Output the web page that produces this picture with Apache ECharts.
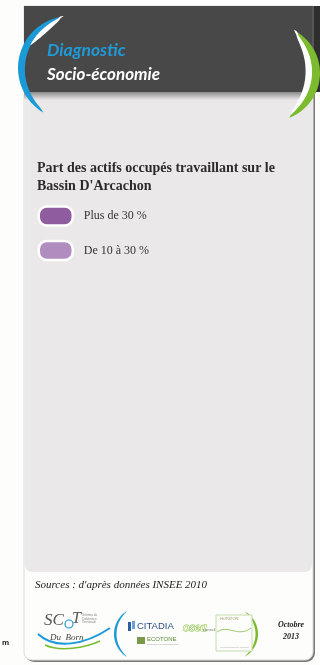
<!DOCTYPE html>
<html>
<head>
<meta charset="utf-8">
<script src="https://cdn.jsdelivr.net/npm/echarts@6/dist/echarts.min.js"></script>
<style>
html,body{margin:0;padding:0;background:#fdfdfb;}
#chart{width:320px;height:665px;}
</style>
</head>
<body>
<div id="chart"></div>
<script>
// ---- content ----
const headerLines = ['Diagnostic', 'Socio-économie'];
const chartTitleLines = ['Part des actifs occupés travaillant sur le', "Bassin D'Arcachon"];
const legendNames = ['Plus de 30 %', 'De 10 à 30 %'];
const legendColors = ['#8f5c9f', '#b08dbf'];
const sourceText = "Sources : d'après données INSEE 2010";
const dateLines = ['Octobre', '2013'];
const partnerNames = ['CITADIA', 'ECOTONE', 'osea', 'HORIZON'];
const sideMark = 'm';

// ---- helpers for decorative shapes ----
// tapered band along a circle: outer radius ro(u), inner radius ri(u), u in [0,1]
function band(c, a1, a2, ro, ri) {
  const n = 48, pts = [];
  for (let i = 0; i <= n; i++) {
    const u = i / n, a = (a1 + (a2 - a1) * u) * Math.PI / 180, r = ro(u);
    pts.push([c[0] + r * Math.cos(a), c[1] + r * Math.sin(a)]);
  }
  for (let i = n; i >= 0; i--) {
    const u = i / n, a = (a1 + (a2 - a1) * u) * Math.PI / 180, r = ri(u);
    pts.push([c[0] + r * Math.cos(a), c[1] + r * Math.sin(a)]);
  }
  return pts;
}
function taper(T, p) { return u => T * Math.pow(Math.max(0, Math.sin(Math.PI * Math.max(0, Math.min(1, u)))), p || 0.6); }
function crescent(c, r, a1, a2, T, p) {
  const t = taper(T, p);
  return band(c, a1, a2, () => r, u => r - t(u));
}

const chart = echarts.init(document.getElementById('chart'), null, {renderer: 'canvas'});

const iconPath = 'path://M8,0H26A8,8 0 0 1 34,8V11A8,8 0 0 1 26,19H8A8,8 0 0 1 0,11V8A8,8 0 0 1 8,0Z';

// blue (left) and green (right) header arcs
const blueT = taper(7, 0.55);
const greenT = taper(8, 0.55);
const whiteG = taper(7, 0.5);
const whiteB = taper(5, 0.7);

const graphics = [
  // page background
  {type: 'rect', z: -10, shape: {x: 0, y: 0, width: 320, height: 665}, style: {fill: '#fdfdfb'}},
  // panel (white with border/shadow)
  {type: 'rect', z: -9, shape: {x: 25, y: 6, width: 290, height: 656, r: [0, 0, 9, 9]}, style: {fill: '#7a7a7a'}},
  {type: 'rect', z: -8, shape: {x: 24, y: 6, width: 289, height: 654, r: [0, 0, 8, 8]}, style: {fill: '#fdfdfb', stroke: '#dcdcdc', lineWidth: 1}},
  // right dark strip next to header
  {type: 'rect', z: -7, shape: {x: 313, y: 6, width: 7, height: 86}, style: {fill: '#2e2e2e'}},
  {type: 'rect', z: -7, shape: {x: 311, y: 6, width: 3, height: 86}, style: {fill: '#565656'}},
  // grey body
  {type: 'rect', z: -6, shape: {x: 25, y: 90, width: 287, height: 482, r: [0, 0, 7, 7]}, style: {fill: '#ebe8e9'}},
  // header
  {type: 'rect', z: -5, shape: {x: 24, y: 6, width: 288, height: 86}, style: {fill: '#484848'}},
  {type: 'rect', z: -5, shape: {x: 24, y: 92, width: 288, height: 8},
    style: {fill: new echarts.graphic.LinearGradient(0, 0, 0, 1, [
      {offset: 0, color: '#8c8c8c'}, {offset: 1, color: '#ebe8e9'}])}},
  // blue crescent (left) with white inner highlight at the top
  {type: 'polygon', z: 5, shape: {points: crescent([70, 68], 52, 121, 259, 7, 0.55)}, style: {fill: '#1b9ad7'}},
  {type: 'polygon', z: 6, shape: {points: band([70, 68], 210, 263,
      u => 52 - blueT((210 - 121 + u * 53) / 138) + 0.5,
      u => 52 - blueT((210 - 121 + u * 53) / 138) + 0.5 - whiteB(u))}, style: {fill: '#ffffff'}},
  // green crescent (right) with white inner band
  {type: 'polygon', z: 6, shape: {points: crescent([272, 73], 48, -58, 69, 8, 0.55)}, style: {fill: '#7cbb2e'}},
  {type: 'polygon', z: 5, shape: {points: band([272, 73], -63, 67,
      u => 48 - greenT((-63 + 58 + u * 130) / 127) + 0.5,
      u => 48 - greenT((-63 + 58 + u * 130) / 127) + 0.5 - whiteG(u))}, style: {fill: '#ffffff'}},
  // header texts
  {type: 'text', z: 10, style: {text: headerLines[0], x: 47, y: 50, fill: '#1f9bd8', fontSize: 17.5, fontWeight: 'bold', fontStyle: 'italic', fontFamily: 'Lato', verticalAlign: 'middle'}},
  {type: 'text', z: 10, style: {text: headerLines[1], x: 47, y: 75, fill: '#ffffff', fontSize: 17, fontWeight: 'bold', fontStyle: 'italic', fontFamily: 'Lato', verticalAlign: 'middle'}},
  // sources
  {type: 'text', z: 10, style: {text: sourceText, x: 35, y: 585, fill: '#222', fontSize: 11, fontStyle: 'italic', fontFamily: 'Liberation Serif', verticalAlign: 'middle'}},
  // date
  {type: 'text', z: 10, style: {text: dateLines.join('\n'), x: 291, y: 631, fill: '#222', fontSize: 8, fontWeight: 'bold', fontStyle: 'italic', fontFamily: 'Liberation Serif', align: 'center', verticalAlign: 'middle', lineHeight: 12}},
  // side mark
  {type: 'text', z: 10, style: {text: sideMark, x: 2, y: 643, fill: '#222', fontSize: 8, fontWeight: 'bold', fontFamily: 'Liberation Sans', verticalAlign: 'middle'}},
  // SCoT logo
  {type: 'text', z: 10, style: {text: 'SC', x: 44, y: 621, fill: '#555', fontSize: 17, fontStyle: 'italic', fontFamily: 'Liberation Serif', verticalAlign: 'middle'}},
  {type: 'circle', z: 10, shape: {cx: 69, cy: 624, r: 4}, style: {fill: null, stroke: '#1b9ad7', lineWidth: 1.2}},
  {type: 'text', z: 10, style: {text: 'T', x: 72, y: 619, fill: '#555', fontSize: 16, fontStyle: 'italic', fontFamily: 'Liberation Serif', verticalAlign: 'middle'}},
  {type: 'text', z: 10, style: {text: 'Schéma de\nCohérence\nTerritoriale', x: 82, y: 619, fill: '#888', fontSize: 3, lineHeight: 3.5, fontFamily: 'Liberation Sans', verticalAlign: 'middle'}},
  {type: 'text', z: 10, style: {text: 'Du  Born', x: 50, y: 638, fill: '#444', fontSize: 9, fontStyle: 'italic', fontFamily: 'Liberation Serif', verticalAlign: 'middle'}},
  {type: 'bezierCurve', z: 9, shape: {x1: 38, y1: 634, cpx1: 55, cpy1: 650, cpx2: 85, cpy2: 645, x2: 110, y2: 628}, style: {stroke: '#1b9ad7', lineWidth: 2, fill: null}},
  {type: 'bezierCurve', z: 9, shape: {x1: 45, y1: 645, cpx1: 60, cpy1: 652, cpx2: 85, cpy2: 648, x2: 100, y2: 641}, style: {stroke: '#7cbb2e', lineWidth: 1.5, fill: null}},
  // parentheses
  {type: 'polygon', z: 9, shape: {points: crescent([141, 634], 27, 122, 238, 2.5, 0.6)}, style: {fill: '#1b9ad7'}},
  {type: 'polygon', z: 9, shape: {points: crescent([232, 634], 26, -60, 60, 2.5, 0.6)}, style: {fill: '#7cbb2e'}},
  // CITADIA
  {type: 'rect', z: 10, shape: {x: 128, y: 622, width: 3, height: 9}, style: {fill: '#2a5ea8'}},
  {type: 'rect', z: 10, shape: {x: 132, y: 621, width: 3, height: 8}, style: {fill: '#6fa0d8'}},
  {type: 'text', z: 10, style: {text: partnerNames[0], x: 137, y: 626, fill: '#2c4f86', fontSize: 9.5, fontFamily: 'Liberation Sans', verticalAlign: 'middle'}},
  // ECOTONE
  {type: 'rect', z: 10, shape: {x: 137, y: 637, width: 8, height: 7}, style: {fill: '#7a9a4a'}},
  {type: 'text', z: 10, style: {text: partnerNames[1], x: 147, y: 639, fill: '#5e8c3a', fontSize: 6, fontFamily: 'Liberation Sans', verticalAlign: 'middle'}},
  {type: 'text', z: 10, style: {text: 'recherche et environnement', x: 147, y: 644, fill: '#999', fontSize: 2.5, fontFamily: 'Liberation Sans', verticalAlign: 'middle'}},
  // OSEA
  {type: 'text', z: 10, style: {text: partnerNames[2], x: 183, y: 628, fill: '#fff', stroke: '#7cbb2e', lineWidth: 1, fontSize: 13, fontStyle: 'italic', fontFamily: 'Liberation Serif', verticalAlign: 'middle'}},
  {type: 'text', z: 10, style: {text: 'conseil', x: 203, y: 630, fill: '#777', fontSize: 4, fontFamily: 'Liberation Sans', verticalAlign: 'middle'}},
  // HORIZON
  {type: 'rect', z: 10, shape: {x: 216, y: 615, width: 36, height: 36}, style: {fill: '#fdfdfb', stroke: '#c5dcae', lineWidth: 1}},
  {type: 'text', z: 10, style: {text: partnerNames[3], x: 220, y: 619, fill: '#a0a070', fontSize: 4, fontFamily: 'Liberation Sans', verticalAlign: 'middle'}},
  {type: 'bezierCurve', z: 10, shape: {x1: 217, y1: 632, cpx1: 228, cpy1: 624, cpx2: 238, cpy2: 638, x2: 251, y2: 628}, style: {stroke: '#9cc870', lineWidth: 1, fill: null}},
  {type: 'text', z: 10, style: {text: 'environnement et territoire', x: 220, y: 647, fill: '#aaa', fontSize: 2.5, fontFamily: 'Liberation Sans', verticalAlign: 'middle'}}
];

const option = {
  animation: false,
  backgroundColor: '#fdfdfb',
  title: {
    text: chartTitleLines.join('\n'),
    left: 37, top: 159, padding: 0,
    textStyle: {fontFamily: 'Liberation Serif', fontWeight: 'bold', fontSize: 14, color: '#2b2b2b', lineHeight: 18}
  },
  legend: {
    orient: 'vertical', left: 37.5, top: 205.2, padding: 0,
    itemWidth: 34, itemHeight: 19, itemGap: 13,
    selectedMode: false,
    icon: iconPath,
    data: legendNames,
    itemStyle: {borderColor: '#ffffff', borderWidth: 2.5},
    textStyle: {fontFamily: 'Liberation Serif', fontSize: 12, color: '#333', padding: [0, 0, 0, 6]}
  },
  graphic: graphics,
  series: [{
    type: 'pie', radius: [0, 0], center: [-50, -50], silent: true,
    label: {show: false}, labelLine: {show: false},
    data: legendNames.map((n, i) => ({name: n, value: 1, itemStyle: {color: legendColors[i]}}))
  }]
};
chart.setOption(option);
</script>
</body>
</html>
